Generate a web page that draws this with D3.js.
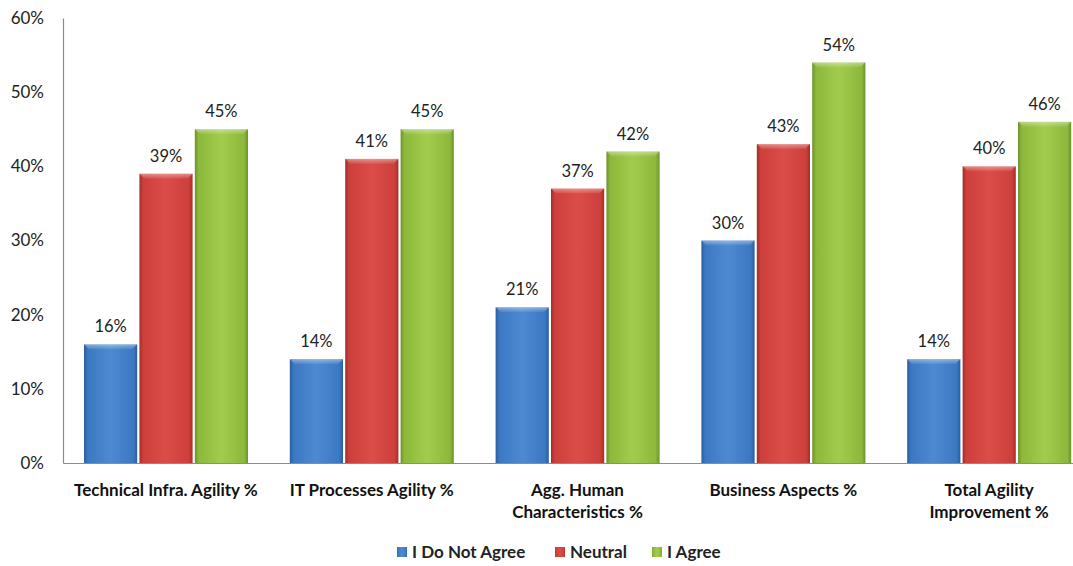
<!DOCTYPE html>
<html><head><meta charset="utf-8">
<script src="https://cdn.jsdelivr.net/npm/d3@7"></script>
<style>body{margin:0;background:#fff}svg{display:block}</style>
</head><body><svg id="c" width="1073" height="566"></svg>
<script>
const categories = [["Technical Infra. Agility %"],["IT Processes Agility %"],["Agg. Human","Characteristics %"],["Business Aspects %"],["Total Agility","Improvement %"]];
const seriesNames = ["I Do Not Agree","Neutral","I Agree"];
const disagree = [16,14,21,30,14];
const neutral = [39,41,37,43,40];
const agree = [45,45,42,54,46];
const yTicks = [0,10,20,30,40,50,60];
const colors = [["#4d8ad2","#3b78c2","#2a5d9c"],["#db4d48","#cc3f3a","#a32e2a"],["#a2cc4c","#8cb83b","#6c922a"]];

const svg = d3.select("#c");
const font = "Lato, 'Liberation Sans', sans-serif";
const y = d3.scaleLinear().domain([0,60]).range([463,18]);
const x0 = d3.scaleBand().domain(d3.range(5)).range([63,1092]).paddingInner(0).paddingOuter(0);
const x1 = d3.scaleBand().domain(d3.range(3)).range([21,185]).paddingInner(0.04).paddingOuter(0);

const defs = svg.append("defs");
colors.forEach((c,i)=>{
  const g = defs.append("linearGradient").attr("id","g"+i).attr("x1","0").attr("x2","1").attr("y1","0").attr("y2","0");
  g.append("stop").attr("offset","0").attr("stop-color",c[2]);
  g.append("stop").attr("offset","0.07").attr("stop-color",c[1]);
  g.append("stop").attr("offset","0.5").attr("stop-color",c[0]);
  g.append("stop").attr("offset","0.93").attr("stop-color",c[1]);
  g.append("stop").attr("offset","1").attr("stop-color",c[2]);
  const v = defs.append("linearGradient").attr("id","v"+i).attr("x1","0").attr("x2","0").attr("y1","0").attr("y2","1");
  v.append("stop").attr("offset","0").attr("stop-color","#fff").attr("stop-opacity",0.4);
  v.append("stop").attr("offset","1").attr("stop-color","#fff").attr("stop-opacity",0.05);
});

// y axis labels
const yAxis = d3.axisLeft(y).tickValues(yTicks).tickFormat(d=>d+"%").tickSize(0).tickPadding(19);
const ya = svg.append("g").attr("transform","translate(63,0)").call(yAxis);
ya.select(".domain").attr("stroke","#8c8c8c").attr("stroke-width",1.2);
ya.selectAll("text").attr("font-family",font).attr("font-size",17).attr("fill","#222");

// x axis
const xa = svg.append("g").attr("transform","translate(0,463)").call(d3.axisBottom(x0).tickSize(0).tickFormat(""));
xa.select(".domain").attr("stroke","#8c8c8c").attr("stroke-width",1.2);

const data = [disagree,neutral,agree];
const groups = svg.append("g").selectAll("g").data(d3.range(5)).join("g")
  .attr("transform",i=>`translate(${x0(i)},0)`);
groups.each(function(ci){
  const g = d3.select(this);
  data.forEach((s,si)=>{
    const bx = x1(si), bw = x1.bandwidth(), by = y(s[ci]), bh = y(0)-y(s[ci]);
    g.append("rect").attr("x",bx).attr("y",by).attr("width",bw).attr("height",bh).attr("fill",`url(#g${si})`);
    g.append("path").attr("d",`M${bx},${by}L${bx+bw},${by}L${bx+bw-5},${by+5}L${bx+5},${by+5}Z`).attr("fill",`url(#v${si})`);
    g.append("text").attr("x",bx+bw/2).attr("y",by-12).attr("text-anchor","middle")
      .attr("font-family",font).attr("font-size",16.5).attr("fill","#222").text(s[ci]+"%");
  });
  const t = g.append("text").attr("text-anchor","middle").attr("font-family",font).attr("font-weight","bold")
    .attr("font-size",17).attr("fill","#111");
  categories[ci].forEach((line,li)=>{
    t.append("tspan").attr("x",x0.bandwidth()/2).attr("y",496+li*22).text(line);
  });
});

// legend
const legX = [397,555,652];
const leg = svg.append("g");
seriesNames.forEach((n,i)=>{
  leg.append("rect").attr("x",legX[i]).attr("y",547).attr("width",10).attr("height",10).attr("fill",`url(#g${i})`);
  leg.append("text").attr("x",legX[i]+15).attr("y",558).attr("font-family",font).attr("font-weight","bold")
    .attr("font-size",17).attr("fill","#222").text(n);
});
</script></body></html>
